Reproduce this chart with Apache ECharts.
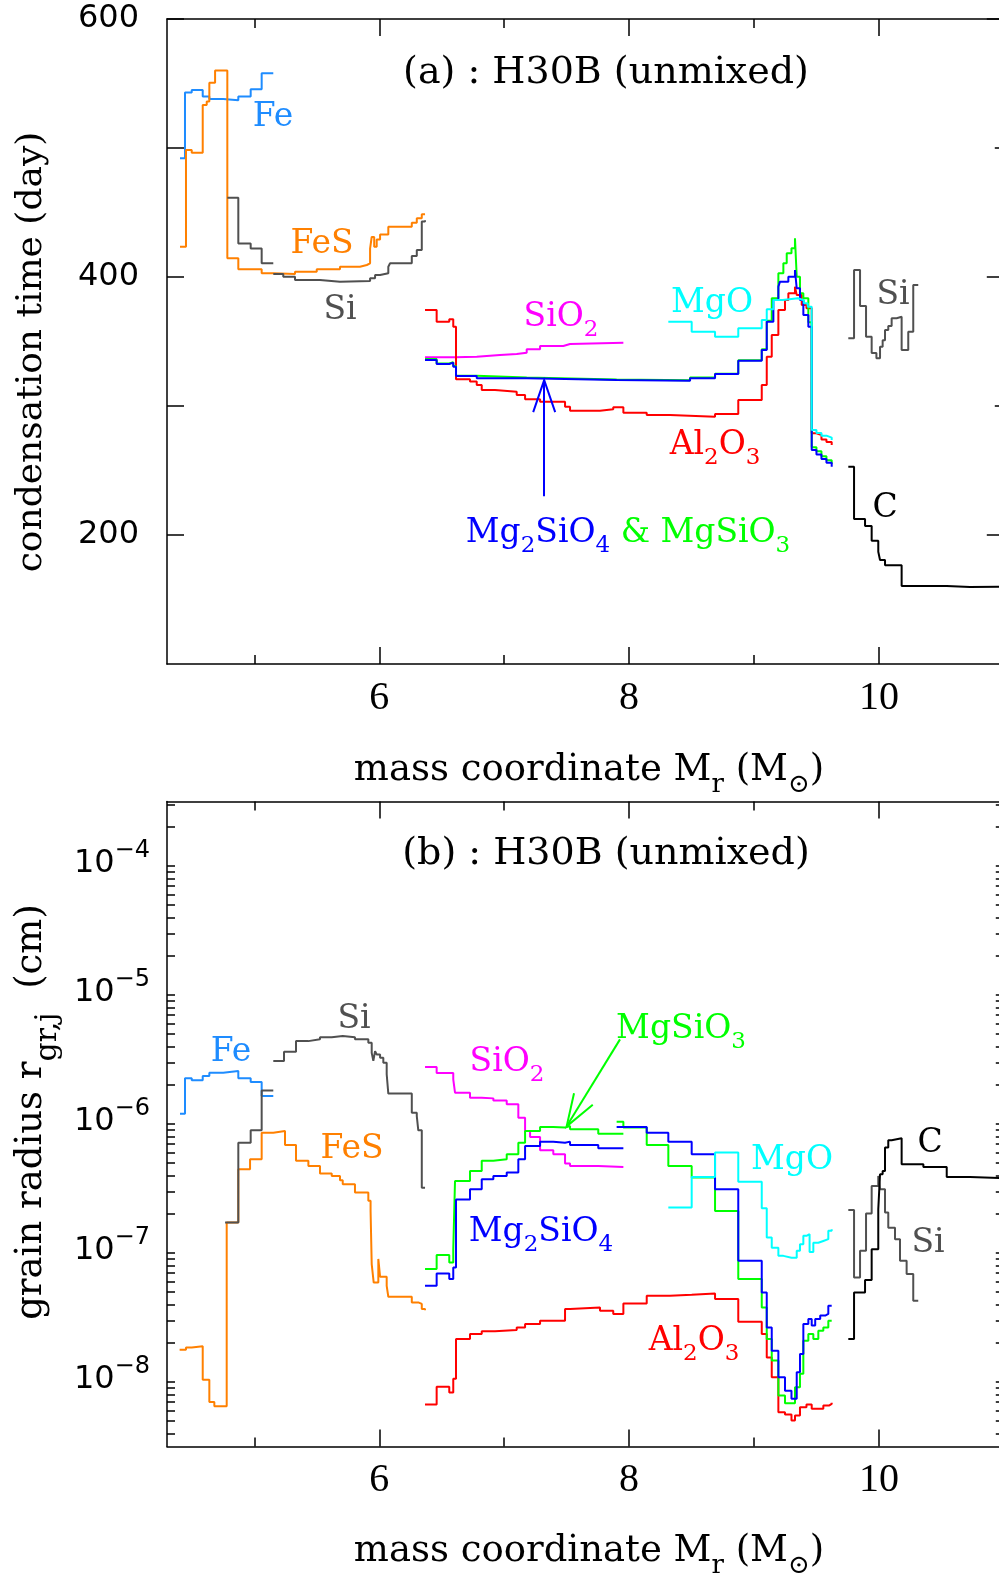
<!DOCTYPE html>
<html><head><meta charset="utf-8">
<script src="https://cdn.jsdelivr.net/npm/echarts@6/dist/echarts.min.js"></script>
<style>html,body{margin:0;padding:0;background:#fff}#c{width:999px;height:1579px}</style>
</head><body><div id="c"></div>
<script>
// ---------- tick values ----------
const massMajor = [6, 8, 10];
const massMinor = [5, 7, 9];
const timeTicks = [200, 300, 400, 500, 600];
const timeMajor = [200, 400, 600];
const timeMinor = [300, 500];
const timeLabels = [200, 400, 600];
const radiusDecades = [1e-8, 1e-7, 1e-6, 1e-5, 1e-4];

// ---------- panel (a): condensation time (day) vs mass coordinate ----------
const feTime = [[4.404,492],[4.444,543],[4.498,545],[4.586,540],[4.639,538],[4.75,537],[4.871,540],[4.970,545.5],[5.058,558],[5.151,558]];
const fesTime = [[4.404,423.5],[4.452,498.4],[4.498,496.4],[4.586,533.3],[4.618,536],[4.639,550.6],[4.685,560],[4.783,414.5],[4.871,406],[5.058,402.9],[5.151,402.3],[5.325,404],[5.499,406],[5.685,408],[5.845,409.3],[5.90,410.6],[5.926,422],[5.939,431],[5.959,423.5],[5.979,429],[6.006,433],[6.072,439],[6.26,442],[6.30,445.5],[6.34,448.6],[6.366,448.6]];
const siTimeA = [[4.783,461.5],[4.871,426],[4.970,422],[5.058,410.6],[5.151,410.6]];
const siTimeB = [[5.151,402.3],[5.231,400.2],[5.325,397.7],[5.525,396.4],[5.685,396.9],[5.926,399],[5.966,401.5],[6.006,402.9],[6.072,408],[6.086,410.6],[6.26,416.3],[6.30,421],[6.34,443],[6.366,444]];
const siTimeC = [[9.755,352.5],[9.801,405.4],[9.849,377.5],[9.897,353.7],[9.942,341],[9.98,337],[10.009,346],[10.03,351],[10.049,359],[10.075,362],[10.102,368],[10.142,369.2],[10.182,343.4],[10.235,357.6],[10.275,393.8],[10.315,393.8]];
const sio2Time = [[6.366,337.7],[6.606,338.2],[6.78,339.5],[6.966,340.3],[7.10,341.3],[7.18,343.9],[7.287,346.5],[7.473,348],[7.527,349.1],[7.954,349.4]];
const al2o3Time = [[6.366,374.4],[6.459,365.4],[6.56,367.2],[6.592,361.5],[6.614,320.7],[6.726,318.9],[6.78,316.3],[6.82,312.4],[6.926,311.1],[7.10,308.5],[7.167,305.2],[7.287,303.3],[7.487,299.5],[7.527,296.4],[7.767,297.4],[7.873,299],[7.954,294.8],[8.141,293],[8.327,291.7],[8.688,293.8],[8.874,304.7],[9.062,316.3],[9.102,338.2],[9.142,355],[9.195,374.4],[9.248,382.2],[9.275,387.4],[9.328,392.5],[9.342,386],[9.382,378.3],[9.42,375.7],[9.462,278.8],[9.50,277.5],[9.54,274],[9.58,272],[9.622,269.8]];
const mgsio3Time = [[6.366,336.5],[6.459,333],[6.56,334],[6.592,331],[6.614,323.5],[6.78,322],[7.18,320.5],[7.90,320],[8.488,322],[8.688,325],[8.874,335.5],[9.062,344],[9.102,366],[9.142,383.5],[9.195,403],[9.235,410.6],[9.262,418.4],[9.30,422.2],[9.328,430],[9.342,400.2],[9.368,387.4],[9.395,383.5],[9.435,365],[9.462,268],[9.50,265],[9.54,261],[9.58,258],[9.622,255]];
const mg2sio4Time = [[6.366,335.7],[6.459,332.6],[6.56,333.6],[6.592,330.5],[6.614,323.3],[6.78,321.5],[7.18,320.2],[7.90,319.6],[8.488,321.5],[8.688,324.8],[8.874,335.1],[9.062,343.4],[9.102,365.4],[9.155,382.2],[9.195,392.5],[9.208,396.4],[9.275,400.2],[9.328,405.4],[9.342,391.2],[9.368,382.2],[9.395,370.5],[9.435,361.5],[9.462,265.9],[9.50,262.5],[9.54,259],[9.58,256],[9.622,253]];
const mgoTime = [[8.314,365.4],[8.501,357.6],[8.688,353.7],[8.874,360.2],[9.062,366.7],[9.102,375],[9.155,382.2],[9.23,383],[9.30,383.5],[9.35,382],[9.40,379.6],[9.43,377],[9.462,281.4],[9.50,279],[9.54,277],[9.58,275.5],[9.622,273.6]];
const cTime = [[9.755,253],[9.801,212.4],[9.889,207],[9.942,195.6],[9.995,187],[10.009,180.6],[10.049,176.5],[10.182,160.5],[10.543,159.7],[10.729,160],[11.0,160]];
const arrowTime = [[7.32,230],[7.32,320]];

// ---------- panel (b): grain radius (cm) vs mass coordinate ----------
const feRadius = [[4.404,1.20e-6],[4.444,2.26e-6],[4.498,2.18e-6],[4.586,2.36e-6],[4.639,2.50e-6],[4.75,2.58e-6],[4.871,2.26e-6],[4.970,2.12e-6],[5.058,1.65e-6],[5.151,1.65e-6]];
const fesRadius = [[4.401,1.78e-8],[4.452,1.85e-8],[4.498,1.89e-8],[4.586,1.04e-8],[4.639,7.0e-9],[4.679,6.5e-9],[4.778,1.72e-7],[4.871,4.46e-7],[4.965,5.33e-7],[5.058,8.57e-7],[5.151,8.83e-7],[5.245,6.87e-7],[5.333,5.18e-7],[5.432,4.73e-7],[5.525,4.13e-7],[5.619,3.96e-7],[5.685,3.66e-7],[5.707,3.41e-7],[5.805,2.94e-7],[5.912,2.54e-7],[5.93,2.12e-7],[5.939,8.2e-8],[5.955,5.9e-8],[5.992,9.0e-8],[6.006,6.55e-8],[6.059,5.57e-8],[6.072,4.58e-8],[6.26,4.14e-8],[6.312,4.03e-8],[6.34,3.68e-8],[6.366,3.6e-8]];
const siRadiusA = [[4.765,1.72e-7],[4.871,7.16e-7],[4.970,8.93e-7],[5.058,1.82e-6],[5.151,1.82e-6]];
const siRadiusB = [[5.151,3.08e-6],[5.237,3.63e-6],[5.333,4.39e-6],[5.432,4.53e-6],[5.525,4.71e-6],[5.619,4.80e-6],[5.707,4.71e-6],[5.805,4.53e-6],[5.912,4.26e-6],[5.939,3.56e-6],[5.952,3.09e-6],[5.966,3.67e-6],[5.979,3.46e-6],[6.006,3.26e-6],[6.032,2.98e-6],[6.059,2.43e-6],[6.072,1.72e-6],[6.26,1.22e-6],[6.30,1.15e-6],[6.312,8.93e-7],[6.34,3.21e-7],[6.366,3.18e-7]];
const siRadiusC = [[9.755,2.15e-7],[9.801,6.46e-8],[9.849,1.04e-7],[9.897,2.02e-7],[9.942,3.31e-7],[9.995,3.96e-7],[10.009,3.12e-7],[10.049,2.06e-7],[10.075,1.57e-7],[10.129,1.28e-7],[10.169,8.71e-8],[10.222,6.87e-8],[10.275,4.27e-8],[10.315,4.27e-8]];
const sio2Radius = [[6.366,2.76e-6],[6.459,2.49e-6],[6.592,2.22e-6],[6.606,1.75e-6],[6.726,1.60e-6],[6.82,1.58e-6],[6.913,1.52e-6],[7.02,1.42e-6],[7.113,1.12e-6],[7.167,8.83e-7],[7.207,7.93e-7],[7.287,6.25e-7],[7.393,5.82e-7],[7.487,4.93e-7],[7.527,4.73e-7],[7.753,4.65e-7],[7.954,4.65e-7]];
const mgsio3RadiusA = [[6.366,7.5e-8],[6.459,9.64e-8],[6.56,8.45e-8],[6.592,1.07e-7],[6.606,3.62e-7],[6.726,4.33e-7],[6.82,5.18e-7],[6.913,5.33e-7],[7.02,5.82e-7],[7.113,7.16e-7],[7.167,8.83e-7],[7.287,9.48e-7],[7.393,9.38e-7],[7.487,9.66e-7],[7.527,9.10e-7],[7.753,8.41e-7],[7.954,8.41e-7]];
const mgsio3RadiusB = [[7.90,1.04e-6],[7.954,9.38e-7],[8.141,6.87e-7],[8.314,4.73e-7],[8.501,3.85e-7],[8.688,2.12e-7],[8.874,6.28e-8],[9.062,3.78e-8],[9.102,2.15e-8],[9.142,1.47e-8],[9.195,7.85e-9],[9.248,6.84e-9],[9.328,9.1e-9],[9.368,1.16e-8],[9.395,2.09e-8],[9.435,2.36e-8],[9.475,2.15e-8],[9.515,2.5e-8],[9.555,2.65e-8],[9.595,2.99e-8],[9.622,2.99e-8]];
const mg2sio4RadiusA = [[6.366,5.57e-8],[6.459,6.93e-8],[6.56,6.28e-8],[6.592,7.73e-8],[6.614,2.6e-7],[6.726,3.12e-7],[6.82,3.73e-7],[6.913,3.96e-7],[7.02,4.2e-7],[7.113,5.33e-7],[7.167,6.76e-7],[7.287,7.3e-7],[7.393,7.16e-7],[7.487,7.3e-7],[7.527,6.87e-7],[7.753,6.49e-7],[7.954,6.49e-7]];
const mg2sio4RadiusB = [[7.90,9.48e-7],[8.141,8.57e-7],[8.314,7.3e-7],[8.501,5.82e-7],[8.688,3.12e-7],[8.874,8.71e-8],[9.062,4.95e-8],[9.102,2.65e-8],[9.142,1.75e-8],[9.195,1.09e-8],[9.248,8.57e-9],[9.30,7.4e-9],[9.342,1.19e-8],[9.368,1.65e-8],[9.395,2.82e-8],[9.435,3.08e-8],[9.462,2.74e-8],[9.49,3.08e-8],[9.53,3.27e-8],[9.57,3.37e-8],[9.595,3.9e-8],[9.622,3.9e-8]];
const mgoRadius = [[8.314,2.25e-7],[8.501,3.89e-7],[8.688,6.0e-7],[8.874,3.57e-7],[9.062,2.22e-7],[9.102,1.32e-7],[9.142,1.10e-7],[9.195,9.5e-8],[9.235,9.2e-8],[9.30,9.2e-8],[9.342,1.04e-7],[9.368,1.17e-7],[9.395,1.36e-7],[9.42,1.40e-7],[9.445,1.02e-7],[9.475,1.20e-7],[9.515,1.24e-7],[9.555,1.28e-7],[9.595,1.49e-7],[9.622,1.53e-7]];
const al2o3Radius = [[6.366,6.68e-9],[6.459,9.2e-9],[6.56,8.3e-9],[6.592,1.06e-8],[6.614,2.15e-8],[6.726,2.36e-8],[6.82,2.47e-8],[6.926,2.53e-8],[7.10,2.65e-8],[7.167,2.82e-8],[7.287,2.99e-8],[7.487,3.68e-8],[7.527,3.78e-8],[7.767,3.57e-8],[7.873,3.37e-8],[7.954,4.06e-8],[8.141,4.67e-8],[8.327,4.74e-8],[8.501,4.86e-8],[8.688,4.4e-8],[8.874,2.93e-8],[9.062,2.36e-8],[9.102,1.55e-8],[9.142,1.09e-8],[9.195,5.83e-9],[9.248,5.6e-9],[9.30,5.02e-9],[9.328,5.5e-9],[9.368,6.37e-9],[9.42,6.68e-9],[9.462,6.19e-9],[9.555,6.56e-9],[9.60,6.76e-9],[9.622,6.9e-9]];
const cRadius = [[9.755,2.15e-8],[9.801,4.95e-8],[9.889,6.17e-8],[9.942,1.07e-7],[9.995,2.19e-7],[10.009,4.08e-7],[10.03,4.33e-7],[10.049,6.56e-7],[10.075,7.48e-7],[10.102,7.74e-7],[10.182,4.88e-7],[10.356,4.65e-7],[10.543,3.89e-7],[10.729,3.8e-7],[11.0,3.8e-7]];
const arrowRadius = [[7.927,4.53e-6],[7.50,9.6e-7]];

// ---------- styling ----------
const COL = {Fe:'#1e8cff', FeS:'#ff8000', Si:'#505050', SiO2:'#ff00ff', MgO:'#00ffff', Al2O3:'#ff0000', Mg2SiO4:'#0000ff', MgSiO3:'#00ff00', C:'#000000'};
const BLACK = {color:'#000', width:1.5};
const radiusTicks = [];
radiusDecades.concat([1e-9]).forEach(d => { for (let k = 1; k <= 9; k++) { const v = d * k; if (v >= 3.1e-9 && v <= 3.2e-4) radiusTicks.push(v); } });

function xAxesFor(g) {
  const base = (pos, showLine, ticks, len, labels) => ({
    type:'value', gridIndex:g, min:4.3, max:11, position:pos,
    splitLine:{show:false},
    axisLine:{show:showLine, onZero:false, lineStyle:BLACK},
    axisTick:{show:true, inside:true, length:len, customValues:ticks, lineStyle:BLACK},
    axisLabel: labels ? {show:true, customValues:ticks, margin:14, fontFamily:'Liberation Serif', fontSize:40, color:'#000'} : {show:false}
  });
  return [base('bottom', true, massMajor, 17, true), base('bottom', false, massMinor, 9, false),
          base('top', true, massMajor, 17, false), base('top', false, massMinor, 9, false)];
}
const yAxes = [
  {type:'value', gridIndex:0, min:100, max:600, position:'left', splitLine:{show:false},
   axisLine:{show:true, onZero:false, lineStyle:BLACK},
   axisTick:{show:true, inside:true, length:17, customValues:timeTicks, lineStyle:BLACK},
   axisLabel:{show:true, customValues:timeLabels, margin:28, fontFamily:'DejaVu Sans', fontSize:32, color:'#000'}},
  {type:'value', gridIndex:0, min:100, max:600, position:'right', splitLine:{show:false},
   axisLine:{show:true, onZero:false, lineStyle:BLACK},
   axisTick:{show:true, inside:true, length:17, customValues:timeMajor, lineStyle:BLACK},
   axisLabel:{show:false}},
  {type:'log', logBase:10, gridIndex:1, min:Math.pow(10,-8.5), max:Math.pow(10,-3.5), position:'left', splitLine:{show:false},
   axisLine:{show:true, onZero:false, lineStyle:BLACK},
   axisTick:{show:true, inside:true, length:8, customValues:radiusTicks, lineStyle:BLACK},
   axisLabel:{show:true, customValues:radiusDecades, margin:17, color:'#000', padding:[0,0,8,0],
     formatter: v => '{b|10}{e|\u2212' + Math.abs(Math.round(Math.log10(v))) + '}',
     rich:{b:{fontSize:32, fontFamily:'DejaVu Sans', lineHeight:35, verticalAlign:'bottom', color:'#000'},
           e:{fontSize:24, fontFamily:'DejaVu Sans', lineHeight:27, verticalAlign:'bottom', padding:[0,0,17,0], color:'#000'}}}},
  {type:'log', logBase:10, gridIndex:1, min:Math.pow(10,-8.5), max:Math.pow(10,-3.5), position:'right', splitLine:{show:false},
   axisLine:{show:true, onZero:false, lineStyle:BLACK},
   axisTick:{show:true, inside:true, length:8, customValues:radiusTicks, lineStyle:BLACK},
   axisLabel:{show:false}},
  {type:'value', gridIndex:0, min:100, max:600, position:'right', splitLine:{show:false},
   axisLine:{show:false, onZero:false},
   axisTick:{show:true, inside:true, length:9, customValues:timeMinor, lineStyle:BLACK},
   axisLabel:{show:false}}
];

function ln(data, color, xi, yi, extra) {
  return Object.assign({type:'line', data, xAxisIndex:xi, yAxisIndex:yi, step:'end', showSymbol:false, symbol:'none',
    lineStyle:{color, width:2}, itemStyle:{color}, animation:false, silent:true}, extra || {});
}
function arrowShaft(pts, color) {
  return {silent:true, animation:false, symbol:['none', 'none'],
    label:{show:false}, lineStyle:{color, width:2, type:'solid'},
    data:[[{coord:pts[0]}, {coord:pts[1]}]]};
}

const series = [
  ln(feTime, COL.Fe, 0, 0), ln(fesTime, COL.FeS, 0, 0), ln(siTimeA, COL.Si, 0, 0), ln(siTimeB, COL.Si, 0, 0),
  ln(sio2Time, COL.SiO2, 0, 0), ln(al2o3Time, COL.Al2O3, 0, 0), ln(mgsio3Time, COL.MgSiO3, 0, 0),
  ln(mg2sio4Time, COL.Mg2SiO4, 0, 0, {markLine: arrowShaft(arrowTime, COL.Mg2SiO4)}),
  ln(mgoTime, COL.MgO, 0, 0), ln(siTimeC, COL.Si, 0, 0), ln(cTime, COL.C, 0, 0),

  ln(feRadius, COL.Fe, 4, 2), ln(fesRadius, COL.FeS, 4, 2), ln(siRadiusA, COL.Si, 4, 2), ln(siRadiusB, COL.Si, 4, 2),
  ln(sio2Radius, COL.SiO2, 4, 2), ln(al2o3Radius, COL.Al2O3, 4, 2),
  ln(mgsio3RadiusA, COL.MgSiO3, 4, 2), ln(mgsio3RadiusB, COL.MgSiO3, 4, 2, {markLine: arrowShaft(arrowRadius, COL.MgSiO3)}),
  ln(mg2sio4RadiusA, COL.Mg2SiO4, 4, 2), ln(mg2sio4RadiusB, COL.Mg2SiO4, 4, 2),
  ln(mgoRadius, COL.MgO, 4, 2), ln(siRadiusC, COL.Si, 4, 2), ln(cRadius, COL.C, 4, 2)
];

// ---------- text ----------
function richText(x, y, parts, size, opts, subScale) {
  const ss = subScale || 0.7;
  const rich = {}; let text = '';
  parts.forEach((p, i) => {
    const [t, color, sub] = p; const key = 'k' + i;
    rich[key] = sub
      ? {fill:color, fontSize:Math.round(size*ss), fontFamily:'DejaVu Serif', lineHeight:Math.round(size*(ss+0.05)), verticalAlign:'top', padding:[Math.round(size*0.55),0,0,0]}
      : {fill:color, fontSize:size, fontFamily:'DejaVu Serif', lineHeight:Math.round(size*1.1), verticalAlign:'top'};
    text += '{' + key + '|' + t + '}';
  });
  return Object.assign({type:'text', x, y, silent:true, z:100, style:{text, rich, align:'center', verticalAlign:'top'}}, opts || {});
}
const A = 33;
const graphics = [
  richText(606, 54, [['(a) : H30B (unmixed)', '#000']], 38),
  richText(606, 835, [['(b) : H30B (unmixed)', '#000']], 38),
  // panel a labels
  richText(273, 101, [['Fe', COL.Fe]], A),
  richText(322, 228, [['FeS', COL.FeS]], A),
  richText(340, 294, [['Si', COL.Si]], A),
  richText(561, 301, [['SiO', COL.SiO2], ['2', COL.SiO2, 1]], A),
  richText(712, 287, [['MgO', COL.MgO]], A),
  richText(715, 429, [['Al', COL.Al2O3], ['2', COL.Al2O3, 1], ['O', COL.Al2O3], ['3', COL.Al2O3, 1]], A),
  richText(893, 279, [['Si', COL.Si]], A),
  richText(885, 492, [['C', COL.C]], A),
  richText(628, 517, [['Mg', COL.Mg2SiO4], ['2', COL.Mg2SiO4, 1], ['SiO', COL.Mg2SiO4], ['4', COL.Mg2SiO4, 1], [' & MgSiO', COL.MgSiO3], ['3', COL.MgSiO3, 1]], A),
  // panel b labels
  richText(231, 1036, [['Fe', COL.Fe]], A),
  richText(354, 1003, [['Si', COL.Si]], A),
  richText(352, 1133, [['FeS', COL.FeS]], A),
  richText(507, 1046, [['SiO', COL.SiO2], ['2', COL.SiO2, 1]], A),
  richText(681, 1013, [['MgSiO', COL.MgSiO3], ['3', COL.MgSiO3, 1]], A),
  richText(792, 1144, [['MgO', COL.MgO]], A),
  richText(541, 1216, [['Mg', COL.Mg2SiO4], ['2', COL.Mg2SiO4, 1], ['SiO', COL.Mg2SiO4], ['4', COL.Mg2SiO4, 1]], A),
  richText(694, 1325, [['Al', COL.Al2O3], ['2', COL.Al2O3, 1], ['O', COL.Al2O3], ['3', COL.Al2O3, 1]], A),
  richText(930, 1127, [['C', COL.C]], A),
  richText(928, 1227, [['Si', COL.Si]], A),
  // axis titles
  richText(589, 752, [['mass coordinate M', '#000'], ['r', '#000', 1], [' (M', '#000'], ['\u2299', '#000', 1], [')', '#000']], 37),
  richText(589, 1533, [['mass coordinate M', '#000'], ['r', '#000', 1], [' (M', '#000'], ['\u2299', '#000', 1], [')', '#000']], 37),
  richText(14, 352, [['condensation time (day)', '#000']], 36, {rotation:Math.PI/2}),
  richText(13, 1112, [['grain radius r', '#000'], ['gr,j', '#000', 1], ['  (cm)', '#000']], 37, {rotation:Math.PI/2}, 0.8)
];

const option = {
  animation:false,
  backgroundColor:'#fff',
  grid:[
    {left:167, top:19, width:836.8, height:645, outerBoundsMode:'none', containLabel:false},
    {left:167, top:801.5, width:836.8, height:645, outerBoundsMode:'none', containLabel:false}
  ],
  xAxis: xAxesFor(0).concat(xAxesFor(1)),
  yAxis: yAxes,
  series,
  graphic: graphics
};
const chart = echarts.init(document.getElementById('c'), null, {renderer:'canvas'});
chart.setOption(option);

// open V arrowheads at the arrow tips, placed through the chart's own coordinate conversion
function arrowHead(seriesIndex, pts, color) {
  const p0 = chart.convertToPixel({seriesIndex}, pts[0]);
  const p1 = chart.convertToPixel({seriesIndex}, pts[1]);
  const dx = p1[0] - p0[0], dy = p1[1] - p0[1], L = Math.hypot(dx, dy);
  const ux = dx / L, uy = dy / L, nx = -uy, ny = ux, len = 32, half = 11;
  return {type:'polyline', silent:true, z:100,
    shape:{points:[[p1[0] - ux*len + nx*half, p1[1] - uy*len + ny*half], [p1[0], p1[1]], [p1[0] - ux*len - nx*half, p1[1] - uy*len - ny*half]]},
    style:{stroke:color, lineWidth:2, fill:null}};
}
chart.setOption({graphic: graphics.concat([arrowHead(7, arrowTime, COL.Mg2SiO4), arrowHead(18, arrowRadius, COL.MgSiO3)])});
</script></body></html>
